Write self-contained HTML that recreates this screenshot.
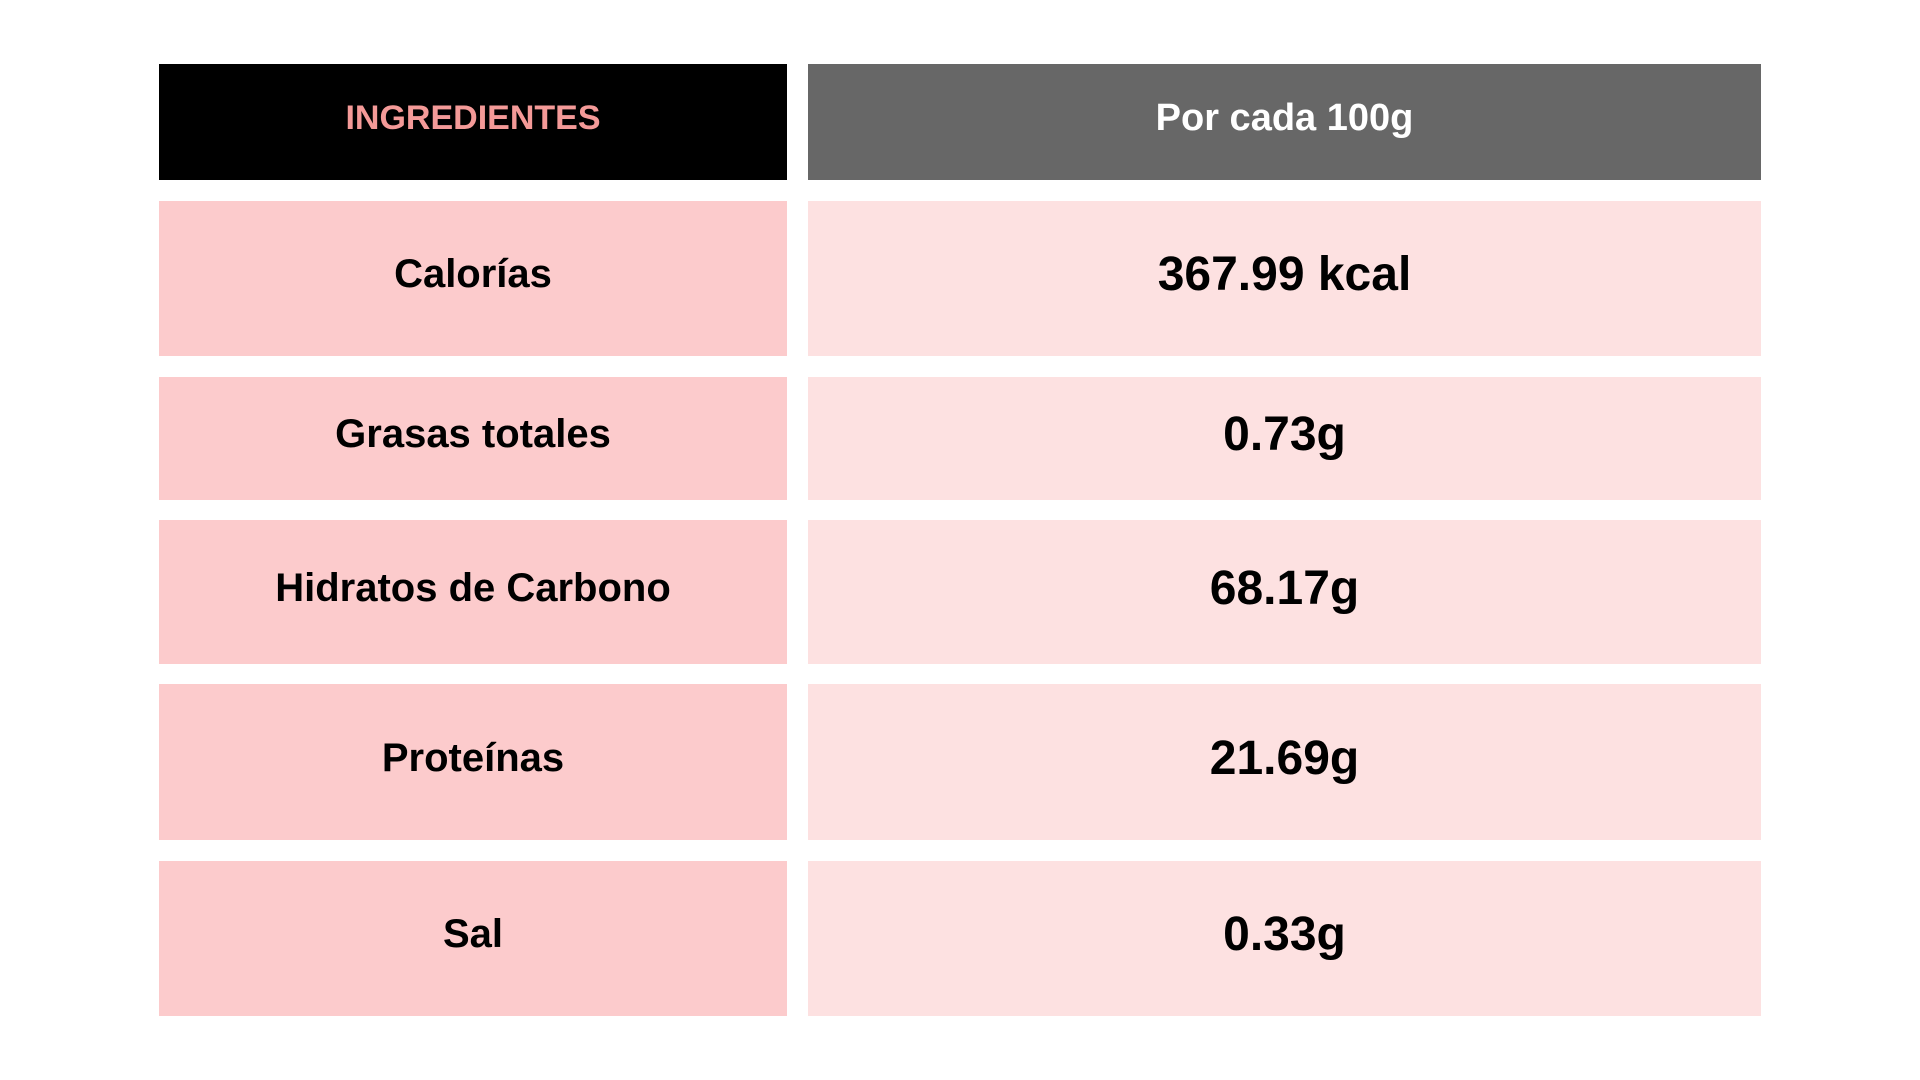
<!DOCTYPE html>
<html><head><meta charset="utf-8"><style>
body{margin:0;width:1920px;height:1080px;background:#fff;position:relative;overflow:hidden;font-family:"Liberation Sans",sans-serif;font-weight:bold}
.c{position:absolute;display:flex;align-items:center;justify-content:center;color:#000;box-sizing:border-box;padding-bottom:8px}
.l{left:159px;width:628px;background:#fccbcc;font-size:40px}
.r{left:808px;width:953px;background:#fde1e1;font-size:48px}
</style></head><body>
<div class="c" style="left:159px;width:628px;top:64px;height:116px;background:#000;color:#f49a98;font-size:34px">INGREDIENTES</div>
<div class="c" style="left:808px;width:953px;top:64px;height:116px;background:#676767;color:#fff;font-size:38px">Por cada 100g</div>
<div class="c l" style="top:201px;height:155px">Calorías</div>
<div class="c r" style="top:201px;height:155px">367.99 kcal</div>
<div class="c l" style="top:377px;height:123px">Grasas totales</div>
<div class="c r" style="top:377px;height:123px">0.73g</div>
<div class="c l" style="top:520px;height:144px">Hidratos de Carbono</div>
<div class="c r" style="top:520px;height:144px">68.17g</div>
<div class="c l" style="top:684px;height:156px">Proteínas</div>
<div class="c r" style="top:684px;height:156px">21.69g</div>
<div class="c l" style="top:861px;height:155px">Sal</div>
<div class="c r" style="top:861px;height:155px">0.33g</div>
</body></html>
